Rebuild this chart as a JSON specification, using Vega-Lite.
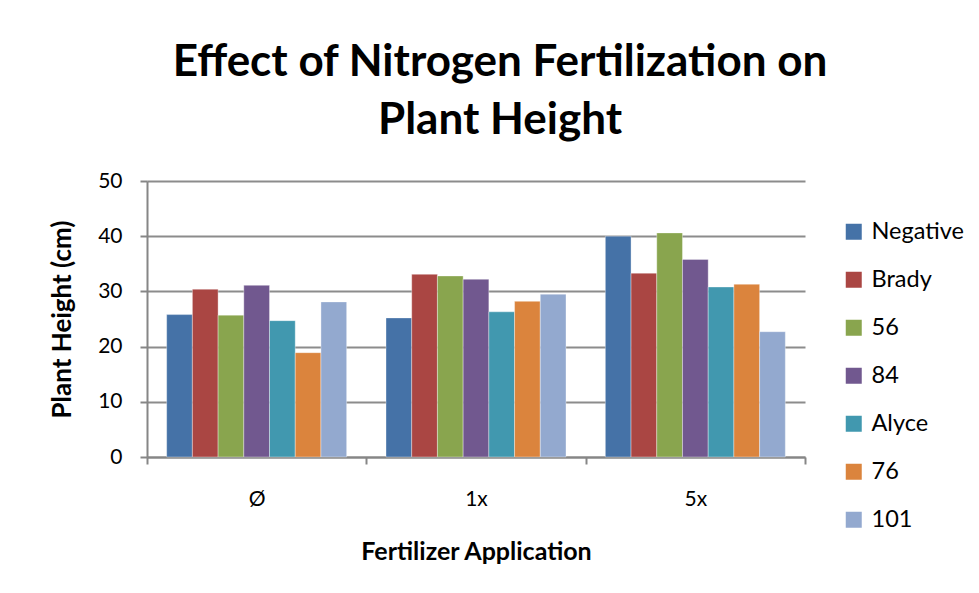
{
  "$schema": "https://vega.github.io/schema/vega-lite/v6.json",
  "width": 658,
  "height": 276,
  "autosize": "none",
  "padding": {"left": 147, "top": 181, "right": 174, "bottom": 136},
  "background": "white",
  "title": {
    "text": ["Effect of Nitrogen Fertilization on", "Plant Height"],
    "font": "Lato",
    "fontSize": 44,
    "fontWeight": "bold",
    "color": "#000000",
    "anchor": "middle",
    "dx": 24,
    "offset": 27,
    "lineHeight": 58
  },
  "data": {
    "values": [
      {"app": "Ø", "variety": "Negative", "height": 25.8},
      {"app": "Ø", "variety": "Brady", "height": 30.4},
      {"app": "Ø", "variety": "56", "height": 25.7},
      {"app": "Ø", "variety": "84", "height": 31.1},
      {"app": "Ø", "variety": "Alyce", "height": 24.7},
      {"app": "Ø", "variety": "76", "height": 18.9},
      {"app": "Ø", "variety": "101", "height": 28.1},
      {"app": "1x", "variety": "Negative", "height": 25.2},
      {"app": "1x", "variety": "Brady", "height": 33.1},
      {"app": "1x", "variety": "56", "height": 32.8},
      {"app": "1x", "variety": "84", "height": 32.2},
      {"app": "1x", "variety": "Alyce", "height": 26.3},
      {"app": "1x", "variety": "76", "height": 28.2},
      {"app": "1x", "variety": "101", "height": 29.5},
      {"app": "5x", "variety": "Negative", "height": 40.0},
      {"app": "5x", "variety": "Brady", "height": 33.3},
      {"app": "5x", "variety": "56", "height": 40.6},
      {"app": "5x", "variety": "84", "height": 35.8},
      {"app": "5x", "variety": "Alyce", "height": 30.8},
      {"app": "5x", "variety": "76", "height": 31.3},
      {"app": "5x", "variety": "101", "height": 22.7}
    ]
  },
  "mark": {"type": "bar", "stroke": "#ffffff", "strokeWidth": 0.6, "strokeOpacity": 0.6},
  "encoding": {
    "x": {
      "field": "app",
      "type": "nominal",
      "sort": ["Ø", "1x", "5x"],
      "scale": {"paddingInner": 0, "paddingOuter": 0},
      "axis": {
        "title": "Fertilizer Application",
        "titleFont": "Lato",
        "titleFontSize": 25,
        "titleFontWeight": "bold",
        "titleColor": "#000000",
        "titlePadding": 30,
        "labelFont": "Lato",
        "labelFontSize": 21,
        "labelColor": "#000000",
        "labelAngle": 0,
        "labelPadding": 24,
        "tickBand": "extent",
        "tickSize": 7,
        "tickColor": "#868686",
        "tickWidth": 2,
        "domainColor": "#868686",
        "domainWidth": 2
      }
    },
    "xOffset": {
      "field": "variety",
      "type": "nominal",
      "sort": ["Negative", "Brady", "56", "84", "Alyce", "76", "101"],
      "scale": {"paddingInner": 0, "paddingOuter": 0.765}
    },
    "y": {
      "field": "height",
      "type": "quantitative",
      "scale": {"domain": [0, 50], "nice": false},
      "axis": {
        "title": "Plant Height (cm)",
        "titleFont": "Lato",
        "titleFontSize": 26,
        "titleFontWeight": "bold",
        "titleColor": "#000000",
        "titlePadding": 22,
        "values": [0, 10, 20, 30, 40, 50],
        "labelFont": "Lato",
        "labelFontSize": 21,
        "labelColor": "#000000",
        "labelPadding": 18,
        "tickSize": 7,
        "tickColor": "#868686",
        "tickWidth": 2,
        "domainColor": "#868686",
        "domainWidth": 2,
        "grid": true,
        "gridColor": "#8c8c8c",
        "gridWidth": 2
      }
    },
    "color": {
      "field": "variety",
      "type": "nominal",
      "sort": ["Negative", "Brady", "56", "84", "Alyce", "76", "101"],
      "scale": {
        "domain": ["Negative", "Brady", "56", "84", "Alyce", "76", "101"],
        "range": ["#4572A7", "#AA4643", "#89A54E", "#71588F", "#4198AF", "#DB843D", "#93A9CF"]
      },
      "legend": {
        "title": null,
        "orient": "none",
        "legendX": 695,
        "legendY": 39,
        "symbolType": "square",
        "symbolSize": 256,
        "symbolStrokeWidth": 0,
        "labelFont": "Lato",
        "labelFontSize": 23.5,
        "labelColor": "#000000",
        "labelOffset": 6,
        "rowPadding": 23,
        "labelLimit": 200
      }
    }
  },
  "config": {
    "view": {"stroke": null}
  }
}
